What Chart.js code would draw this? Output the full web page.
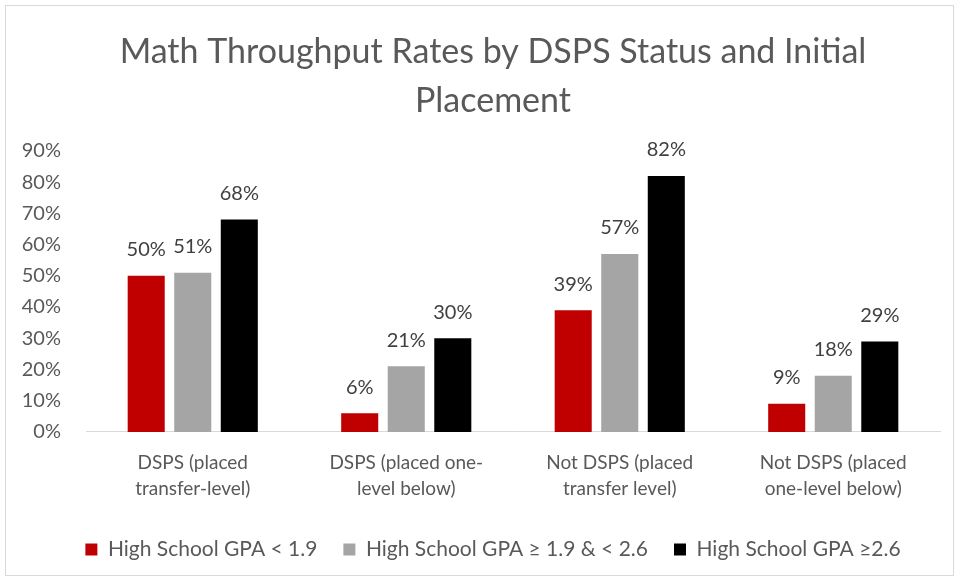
<!DOCTYPE html>
<html>
<head>
<meta charset="utf-8">
<script src="https://cdn.jsdelivr.net/npm/chart.js@4/dist/chart.umd.min.js"></script>
<style>
  html, body { margin: 0; padding: 0; background: #fff; }
  #wrap { position: absolute; left: 5px; top: 5px; width: 947px; height: 569px; border: 1px solid #d9d9d9; overflow: hidden; }
  canvas { position: absolute; left: 0; top: 0; }
</style>
</head>
<body>
<div id="wrap"><canvas id="chart" width="987" height="569"></canvas></div>
<script>
// Math throughput rates (percent)
const categories = [
    ['DSPS (placed', 'transfer-level)'],
    ['DSPS (placed one-', 'level below)'],
    ['Not DSPS (placed', 'transfer level)'],
    ['Not DSPS (placed', 'one-level below)']
];
const seriesNames = ['High School GPA < 1.9', 'High School GPA \u2265 1.9 & < 2.6', 'High School GPA \u22652.6'];
const gpaLow = [50, 6, 39, 9];
const gpaMid = [51, 21, 57, 18];
const gpaHigh = [68, 30, 82, 29];
const yTicks = [0, 10, 20, 30, 40, 50, 60, 70, 80, 90];

const textColor = '#595959';
const fontFamily = 'Lato, "Open Sans", sans-serif';

// draws the value above each bar
const valueLabels = {
    id: 'valueLabels',
    afterDatasetsDraw(chart) {
        const ctx = chart.ctx;
        ctx.save();
        ctx.font = '20px ' + fontFamily;
        ctx.fillStyle = '#404040';
        ctx.textAlign = 'center';
        ctx.textBaseline = 'middle';
        chart.data.datasets.forEach((ds, i) => {
            chart.getDatasetMeta(i).data.forEach((bar, j) => {
                ctx.fillText(ds.data[j] + '%', bar.x, bar.y - 26);
            });
        });
        ctx.restore();
    }
};

new Chart(document.getElementById('chart'), {
    type: 'bar',
    data: {
        labels: categories,
        datasets: [
            { label: seriesNames[0], data: gpaLow, backgroundColor: '#c00000' },
            { label: seriesNames[1], data: gpaMid, backgroundColor: '#a5a5a5' },
            { label: seriesNames[2], data: gpaHigh, backgroundColor: '#000000' }
        ]
    },
    options: {
        responsive: false,
        animation: false,
        categoryPercentage: 0.654,
        barPercentage: 0.796,
        layout: { padding: { left: 0, right: 13, top: 0, bottom: 5 } },
        plugins: {
            title: {
                display: true,
                text: ['Math Throughput Rates by DSPS Status and Initial', 'Placement'],
                color: textColor,
                font: { family: fontFamily, size: 34, weight: 'normal', lineHeight: 1.44 },
                padding: { top: 22, bottom: 25 }
            },
            legend: {
                position: 'bottom',
                labels: {
                    color: textColor,
                    font: { family: fontFamily, size: 21 },
                    boxWidth: 12,
                    boxHeight: 12,
                    padding: 26
                }
            },
            tooltip: { enabled: false }
        },
        scales: {
            x: {
                grid: { display: false },
                border: { color: '#d9d9d9' },
                afterFit: axis => { axis.height += 1; },
                ticks: {
                    color: textColor,
                    font: { family: fontFamily, size: 19, lineHeight: 1.37 },
                    maxRotation: 0,
                    padding: 10
                }
            },
            y: {
                min: 0,
                max: 90,
                afterBuildTicks: axis => { axis.ticks = yTicks.map(v => ({ value: v })); },
                afterFit: axis => { axis.width = 80; },
                grid: { display: false },
                border: { display: false },
                ticks: {
                    color: textColor,
                    font: { family: fontFamily, size: 20 },
                    padding: 17,
                    callback: v => v + '%'
                }
            },
            // empty right-hand spacer so the title and legend sit where the original has them
            spacer: {
                position: 'right',
                min: 0,
                max: 90,
                afterFit: axis => { axis.width = 40; },
                grid: { display: false },
                border: { display: false },
                ticks: { display: false }
            }
        }
    },
    plugins: [valueLabels]
});
</script>
</body>
</html>
